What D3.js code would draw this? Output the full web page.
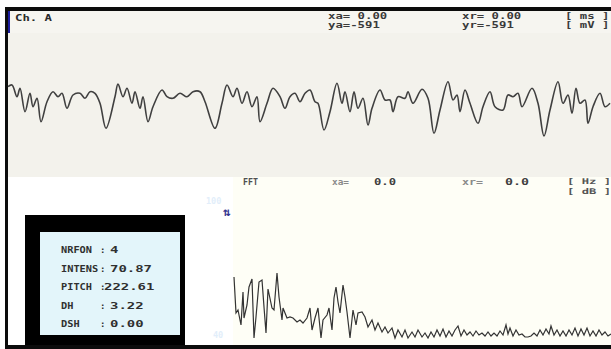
<!DOCTYPE html>
<html>
<head>
<meta charset="utf-8">
<script src="https://cdn.jsdelivr.net/npm/d3@7"></script>
<style>
  html, body { margin: 0; padding: 0; background: #fff; }
  figure { margin: 0; }
  svg { display: block; }
  text { font-family: "DejaVu Sans Mono", monospace; font-weight: bold; }
</style>
</head>
<body>
<figure id="scope"></figure>
<script>
// Ch. A trace: sample index / amplitude (mV), turning points
const waveT = [0,4,9,12,17,22,25,29,33,39,45,50,54,59,65,72,77,82,87,92,
  98,107,110,115,119,124,127,132,135,140,145,154,159,165,172,179,185,192,197,207,
  214,219,225,229,234,239,244,249,252,259,265,272,277,282,287,292,297,302,307,310,
  316,322,329,334,337,342,346,350,355,360,364,372,377,382,385,390,397,400,405,414,
  420,426,432,440,445,449,452,457,462,470,475,482,487,495,500,505,510,514,524,530,
  536,542,550,555,560,564,568,572,577,580,585,592,597,602];
const waveV = [73,90,-27,57,-177,7,-127,-43,-277,-77,23,-27,7,-143,-10,7,-43,23,7,-93,
  -343,-27,100,-27,57,-93,23,-143,-27,-277,-127,40,-27,-43,7,-27,23,23,-77,-343,
  -93,90,-27,57,-93,23,-127,-27,-277,-93,57,-27,-143,-27,7,-77,7,40,-77,-93,
  -360,-177,107,-93,23,-177,23,-143,-43,-310,-143,40,-60,-60,-177,-27,-43,23,-93,47,
  -43,-393,-160,123,-60,-10,-177,40,-93,-293,-127,23,-127,-160,-10,-27,7,-127,57,-93,
  -420,-160,123,-93,-10,-193,57,-93,-60,-293,-127,7,-127,-93];

// FFT: bin / level (dB)
const fftBin = [0,2,4,7,9,10,13,15,18,20,22,25,28,30,32,34,38,40,43,45,
  48,49,53,56,59,63,66,69,73,76,78,81,84,87,89,93,95,98,100,102,
  104,106,109,111,113,116,119,122,124,128,131,134,138,141,144,148,151,154,158,161,
  164,168,171,174,178,181,184,188,191,194,197,200,203,206,209,212,215,218,221,224,
  227,230,233,236,239,242,245,248,251,254,257,260,263,266,269,272,274,276,279,282,
  285,288,291,294,297,300,303,306,309,312,315,317,320,323,326,329,332,335,338,341,
  344,347,350,353,356,359,362,365,368,371,374,377];
const fftDb = [70.5,52.5,54,46.5,63,50,56.5,65.5,69.5,40,50.5,68,69,55.5,42.5,64.5,55,54,72.5,60.5,
  49,55,50,50.5,50,48,49,47.5,50,55,44,50,55,40,49,51.5,55,44,60,65.5,
  58,52.5,66.5,60.5,53,40,54,46.5,52.5,53,50.5,45.5,49,44,47.5,43,45.5,42.5,45,40,
  44,40.5,44,40,43,40.5,44,40.5,42.5,40,43,40.5,44,41,44.5,40.5,43.5,41,44,46,
  41,44,41.5,43,41,43.5,41.5,42.5,41,43,41,42.5,41,43.5,41.5,46.5,42,45,41,44,
  41.5,42,40.5,40.5,41,42.5,41,44,41.5,44.5,42,46,41.5,44,41,43.5,41,44,41.5,45,
  41,44.5,41.5,45,41,43.5,41,44,41.5,43,41,42];

const channelName = "Ch. A";
const topReadout = ["xa= 0.00", "ya=-591", "xr= 0.00", "yr=-591", "[ ms ]", "[ mV ]"];
const fftReadout = ["FFT", "xa=", "0.0", "xr=", "0.0", "[ Hz ]", "[ dB ]"];
const fftTicks = ["100", "40"];
const paramNames = ["NRFON", "INTENS", "PITCH", "DH", "DSH"];
const paramValues = ["4", "70.87", "222.61", "3.22", "0.00"];

const width = 611, height = 349;

const svg = d3.select("figure#scope")
  .append("svg")
  .attr("width", width)
  .attr("height", height);

// panels
svg.append("rect").attr("x", 8).attr("y", 10).attr("width", 603).attr("height", 167).attr("fill", "#f3f2ec");
svg.append("rect").attr("x", 8).attr("y", 10).attr("width", 603).attr("height", 23).attr("fill", "#f6f5f0");
svg.append("rect").attr("x", 233).attr("y", 177).attr("width", 378).attr("height", 168).attr("fill", "#fefef6");

// frame
svg.append("rect").attr("x", 5).attr("y", 7).attr("width", 606).attr("height", 4).attr("fill", "#0c0c0c");
svg.append("rect").attr("x", 5).attr("y", 7).attr("width", 3).attr("height", 342).attr("fill", "#0c0c0c");
svg.append("rect").attr("x", 5).attr("y", 345).attr("width", 606).attr("height", 4).attr("fill", "#0c0c0c");
svg.append("rect").attr("x", 8).attr("y", 11).attr("width", 2).attr("height", 22).attr("fill", "#1d1d9e");

// waveform
const x = d3.scaleLinear().domain([0, 603]).range([8, 611]);
const y = d3.scaleLinear().domain([-840, 840]).range([178, 10]);
const wave = waveT.map((t, i) => ({ t: t, v: waveV[i] }));

svg.append("path")
  .datum(wave)
  .attr("fill", "none")
  .attr("stroke", "#404040")
  .attr("stroke-width", 1.6)
  .attr("stroke-linejoin", "round")
  .attr("d", d3.line().x(d => x(d.t)).y(d => y(d.v)).curve(d3.curveCatmullRom.alpha(0.5)));

// header readouts
svg.append("text").attr("x", 15).attr("y", 20.5)
  .attr("font-size", 8.5).attr("fill", "#2a2a2a")
  .attr("textLength", 37).attr("lengthAdjust", "spacingAndGlyphs")
  .text(channelName);

const topPos = [[328, 19], [328, 28], [462, 19], [462, 28], [565, 19], [565, 28]];
svg.append("g").selectAll("text")
  .data(topReadout)
  .enter()
  .append("text")
  .attr("x", (d, i) => topPos[i][0])
  .attr("y", (d, i) => topPos[i][1])
  .attr("font-size", 8.5)
  .attr("fill", "#3a3a3a")
  .attr("textLength", d => d.length * 7.4)
  .attr("lengthAdjust", "spacingAndGlyphs")
  .text(d => d);

// FFT
const fx = d3.scaleLinear().domain([0, 377]).range([234, 611]);
const fy = d3.scaleLinear().domain([40, 110]).range([338, 198]);
const spectrum = fftBin.map((b, i) => ({ b: b, db: fftDb[i] }));

svg.append("path")
  .datum(spectrum)
  .attr("fill", "none")
  .attr("stroke", "#333")
  .attr("stroke-width", 1.2)
  .attr("d", d3.line().x(d => fx(d.b)).y(d => fy(d.db)));

const fftPos = [[243, 185, 15], [332, 185, 17], [374, 185, 22], [462, 185, 21], [505, 185, 24], [567, 184, 44], [567, 193.5, 44]];
const fftFill = ["#505050", "#8a8a8a", "#404040", "#8a8a8a", "#404040", "#555", "#555"];
svg.append("g").selectAll("text")
  .data(fftReadout)
  .enter()
  .append("text")
  .attr("x", (d, i) => fftPos[i][0])
  .attr("y", (d, i) => fftPos[i][1])
  .attr("font-size", (d, i) => i >= 5 ? 7.8 : 8.5)
  .attr("fill", (d, i) => fftFill[i])
  .attr("textLength", (d, i) => fftPos[i][2])
  .attr("lengthAdjust", "spacingAndGlyphs")
  .text(d => d);

// faint level labels and scroll marker
svg.append("text").attr("x", 206).attr("y", 204).attr("font-size", 8.5).attr("fill", "#e2eefa").text(fftTicks[0]);
svg.append("text").attr("x", 213).attr("y", 338).attr("font-size", 8.5).attr("fill", "#e2eefa").text(fftTicks[1]);
svg.append("text").attr("x", 223).attr("y", 216)
  .attr("font-family", "DejaVu Sans").attr("font-size", 12).attr("fill", "#34348f")
  .text("\u21C5");

// parameter box
svg.append("rect").attr("x", 25).attr("y", 215).attr("width", 160).attr("height", 130).attr("fill", "#000");
svg.append("rect").attr("x", 40).attr("y", 232).attr("width", 140).attr("height", 103).attr("fill", "#e3f5fa");

const rows = svg.append("g").selectAll("g")
  .data(paramNames)
  .enter()
  .append("g")
  .attr("transform", (d, i) => "translate(0," + (253 + i * 18.5) + ")");

rows.append("text")
  .attr("x", 61)
  .attr("font-size", 9)
  .attr("fill", "#303030")
  .attr("textLength", d => d.length * 6.2)
  .attr("lengthAdjust", "spacingAndGlyphs")
  .text(d => d);

rows.append("text")
  .attr("x", 100)
  .attr("font-size", 9)
  .attr("fill", "#303030")
  .text(":");

rows.append("text")
  .attr("x", (d, i) => paramValues[i].length >= 6 ? 104 : 110)
  .attr("font-size", 9)
  .attr("fill", "#303030")
  .attr("textLength", (d, i) => paramValues[i].length * 8.4)
  .attr("lengthAdjust", "spacingAndGlyphs")
  .text((d, i) => paramValues[i]);
</script>
</body>
</html>
